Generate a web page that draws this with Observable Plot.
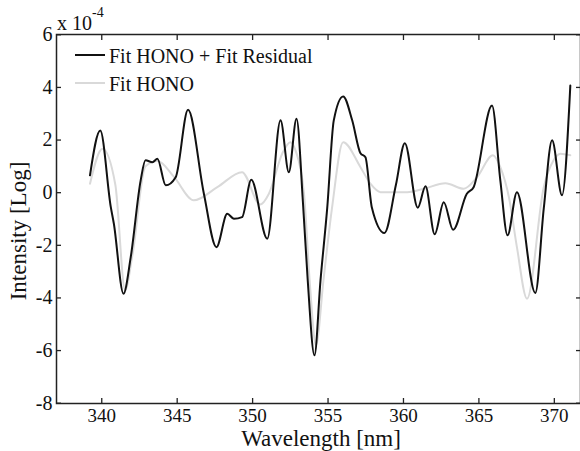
<!DOCTYPE html>
<html>
<head>
<meta charset="utf-8">
<script src="https://cdn.jsdelivr.net/npm/d3@7"></script>
<script src="https://cdn.jsdelivr.net/npm/@observablehq/plot@0.6"></script>
<style>
  html, body { margin: 0; padding: 0; background: white; }
  #chart { width: 580px; height: 451px; overflow: hidden; }
</style>
</head>
<body>
<div id="chart"></div>
<script>
// Fit HONO + Fit Residual (black)
const residWl = [339.22, 339.9, 340.6, 340.8, 341.44, 341.92, 342.58, 342.9, 343.36, 343.69, 344.24, 344.9, 345.72, 346.77, 347.6, 348.32, 348.76, 349.3, 349.91, 350.97, 351.85, 352.4, 352.91, 353.35, 353.65, 354.1, 354.5, 354.95, 355.38, 356.0, 356.6, 357.15, 357.48, 357.9, 358.74, 359.5, 360.09, 360.95, 361.46, 362.07, 362.67, 363.29, 364.2, 364.65, 365.87, 366.42, 366.9, 367.52, 368.74, 369.3, 369.85, 370.51, 371.06];
const residVal = [0.66, 2.36, -0.55, -1.17, -3.84, -2.45, 0.47, 1.23, 1.16, 1.29, 0.28, 0.59, 3.15, -0.04, -2.07, -0.8, -0.99, -0.93, 0.49, -1.75, 2.75, 0.78, 2.81, -0.5, -3.3, -6.18, -3.33, -0.55, 2.75, 3.66, 2.75, 1.5, 1.35, -0.55, -1.53, 0.3, 1.88, -0.57, 0.24, -1.58, -0.36, -1.41, -0.04, 0.21, 3.31, 0.47, -1.62, 0.02, -3.81, -0.6, 1.99, -0.1, 4.07];
// Fit HONO (light gray)
const honoWl = [339.22, 340.05, 340.9, 341.55, 342.03, 342.9, 343.7, 344.8, 346.1, 347.66, 349.3, 350.5, 351.08, 351.96, 352.5, 352.85, 353.4, 353.8, 354.2, 354.7, 355.27, 356.0, 357.15, 357.81, 358.48, 360.25, 361.35, 362.78, 364.0, 364.88, 365.93, 366.42, 367.0, 367.52, 368.19, 369.3, 369.95, 370.4, 371.06];
const honoVal = [0.34, 1.67, 0.3, -3.7, -2.38, 1.0, 1.2, 0.59, -0.29, 0.21, 0.78, -0.45, -0.04, 1.48, 1.92, 1.6, 0.0, -3.5, -5.8, -3.3, -0.55, 1.92, 0.97, 0.34, 0.02, 0.02, 0.15, 0.36, 0.15, 0.59, 1.42, 0.97, -0.2, -2.07, -4.03, 0.21, 1.23, 1.48, 1.42];

const xTicks = [340, 345, 350, 355, 360, 365, 370];
const yTicks = [-8, -6, -4, -2, 0, 2, 4, 6];
const seriesNames = ["Fit HONO + Fit Residual", "Fit HONO"];
const seriesColors = ["#111111", "#d9d9d9"];

const resid = residWl.map((w, i) => ({w, v: residVal[i]}));
const hono = honoWl.map((w, i) => ({w, v: honoVal[i]}));

const FONT = "'Liberation Serif', 'Times New Roman', serif";

const plot = Plot.plot({
  width: 580,
  height: 451,
  marginLeft: 56,
  marginRight: 0,
  marginTop: 34,
  marginBottom: 48,
  style: {fontFamily: FONT, fontSize: "20px", color: "#111", background: "white"},
  x: {domain: [337, 372], range: [56, 584]},
  y: {domain: [-8, 6], range: [402.7, 34.3]},
  marks: [
    Plot.line(hono, {x: "w", y: "v", stroke: seriesColors[1], strokeWidth: 2, curve: "monotone-x"}),
    Plot.line(resid, {x: "w", y: "v", stroke: seriesColors[0], strokeWidth: 2, curve: "monotone-x"}),
    Plot.frame({stroke: "#222", strokeWidth: 1.5}),
    // labels
    Plot.axisX({anchor: "bottom", ticks: xTicks, tickSize: 0, tickPadding: 5, label: null, fontSize: 19, fill: "#111", tickFormat: d => String(d)}),
    Plot.axisY({anchor: "left", ticks: yTicks, tickSize: 0, tickPadding: 4, label: null, fontSize: 20, fill: "#111", tickFormat: d => String(d)}),
    // inward ticks
    Plot.axisX({anchor: "bottom", ticks: xTicks, tickSize: -5, tickFormat: () => "", label: null, stroke: "#222", strokeWidth: 1.3}),
    Plot.axisX({anchor: "top", ticks: xTicks, tickSize: -5, tickFormat: () => "", label: null, stroke: "#222", strokeWidth: 1.3}),
    Plot.axisY({anchor: "left", ticks: yTicks, tickSize: -5, tickFormat: () => "", label: null, stroke: "#222", strokeWidth: 1.3}),
    Plot.axisY({anchor: "right", ticks: yTicks, tickSize: -5, tickFormat: () => "", label: null, stroke: "#222", strokeWidth: 1.3})
  ]
});

document.getElementById("chart").appendChild(plot);

const svg = d3.select(plot);
const g = svg.append("g").attr("font-family", FONT).attr("fill", "#111").attr("text-anchor", "start");

// exponent
g.append("text").attr("x", 57).attr("y", 30).attr("font-size", 20).attr("text-anchor", "start").text("x 10");
g.append("text").attr("x", 92).attr("y", 17).attr("font-size", 14).attr("text-anchor", "start").text("-4");

// axis labels
g.append("text").attr("x", 321).attr("y", 446).attr("text-anchor", "middle").attr("font-size", 23).text("Wavelength [nm]");
g.append("text").attr("transform", "translate(26,231) rotate(-90)").attr("text-anchor", "middle").attr("font-size", 23).text("Intensity [Log]");

// legend
seriesNames.forEach((name, i) => {
  const y = 55 + i * 28;
  g.append("line").attr("x1", 75).attr("x2", 105).attr("y1", y).attr("y2", y)
    .attr("stroke", seriesColors[i]).attr("stroke-width", 2);
  g.append("text").attr("x", 109).attr("y", y + 8).attr("font-size", 20).attr("text-anchor", "start").text(name);
});
</script>
</body>
</html>
